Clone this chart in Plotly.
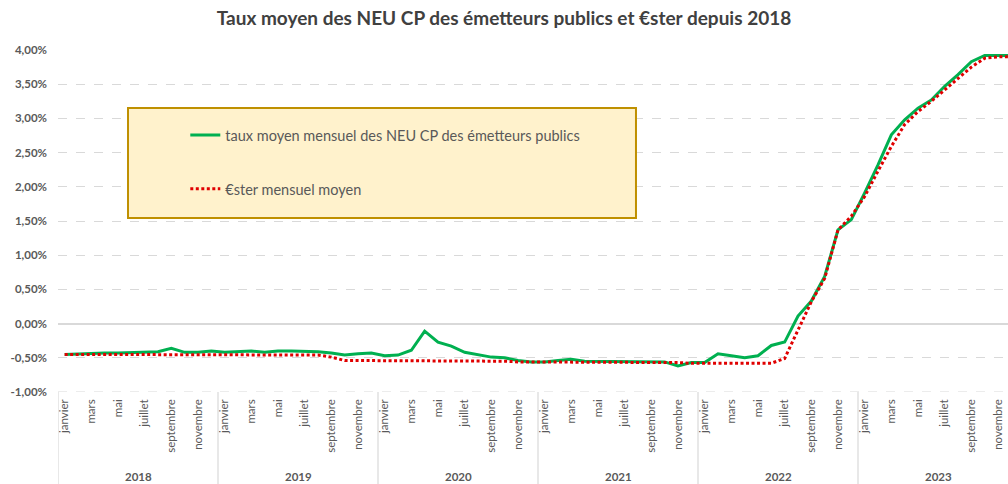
import plotly.graph_objects as go

# Monthly series, January 2018 -> December 2023 (values in %)
years = ["2018", "2019", "2020", "2021", "2022", "2023"]
months = ["janvier", "février", "mars", "avril", "mai", "juin",
          "juillet", "août", "septembre", "octobre", "novembre", "décembre"]

neu_cp = [
    # 2018
    -0.45, -0.44, -0.44, -0.43, -0.43, -0.42, -0.42, -0.41, -0.36, -0.42, -0.42, -0.40,
    # 2019
    -0.42, -0.41, -0.40, -0.42, -0.40, -0.40, -0.40, -0.41, -0.43, -0.46, -0.44, -0.43,
    # 2020
    -0.47, -0.46, -0.39, -0.11, -0.27, -0.33, -0.42, -0.45, -0.49, -0.50, -0.54, -0.56,
    # 2021
    -0.56, -0.54, -0.52, -0.55, -0.55, -0.55, -0.55, -0.55, -0.55, -0.56, -0.62, -0.57,
    # 2022
    -0.57, -0.44, -0.47, -0.50, -0.47, -0.32, -0.27, 0.11, 0.33, 0.69, 1.37, 1.52,
    # 2023
    1.91, 2.32, 2.76, 2.98, 3.15, 3.27, 3.47, 3.64, 3.83, 3.92, 3.92, 3.92,
]

ester = [
    # 2018
    -0.45, -0.45, -0.45, -0.45, -0.45, -0.45, -0.45, -0.45, -0.45, -0.45, -0.45, -0.45,
    # 2019
    -0.45, -0.45, -0.45, -0.45, -0.45, -0.45, -0.45, -0.46, -0.49, -0.54, -0.54, -0.54,
    # 2020
    -0.54, -0.54, -0.54, -0.54, -0.54, -0.55, -0.55, -0.55, -0.55, -0.55, -0.56, -0.56,
    # 2021
    -0.56, -0.56, -0.56, -0.56, -0.56, -0.56, -0.57, -0.57, -0.57, -0.57, -0.57, -0.58,
    # 2022
    -0.58, -0.58, -0.58, -0.58, -0.58, -0.58, -0.51, -0.09, 0.32, 0.66, 1.37, 1.57,
    # 2023
    1.86, 2.23, 2.59, 2.91, 3.10, 3.25, 3.42, 3.59, 3.75, 3.88, 3.90, 3.90,
]

y_ticks = [-1.0, -0.5, 0.0, 0.5, 1.0, 1.5, 2.0, 2.5, 3.0, 3.5, 4.0]

x = list(range(len(years) * len(months)))
month_tickvals = [i for i in x if i % 2 == 0]
month_ticktext = [months[i % 12] for i in month_tickvals]

TXT = "#595959"
GRID = "#D9D9D9"
FONT = "Lato"

fig = go.Figure()
fig.add_trace(go.Scatter(
    x=x, y=neu_cp, mode="lines",
    name="taux moyen mensuel des NEU CP des émetteurs publics",
    line=dict(color="#00B050", width=3),
    legendgroup="a",
))
fig.add_trace(go.Scatter(
    x=x, y=ester, mode="lines",
    name="€ster mensuel moyen",
    line=dict(color="#E00000", width=3, dash="3px,2.5px"),
    legendgroup="b",
))

shapes = []
# Legend panel
shapes.append(dict(type="rect", xref="paper", yref="paper",
                   x0=0.0737, x1=0.6084, y0=0.5088, y1=0.8304,
                   fillcolor="#FFF2CC", line=dict(color="#BF9000", width=2),
                   layer="above"))
# Dashed baseline along the category axis
shapes.append(dict(type="line", xref="paper", yref="y",
                   x0=0, x1=1, y0=-1.0, y1=-1.0,
                   line=dict(color=GRID, width=1, dash="dash")))
# Year separators under the axis
for k in range(len(years) + 1):
    xb = k * 12 - 0.5
    shapes.append(dict(type="line", xref="x", yref="paper",
                       x0=xb, x1=xb, y0=0, y1=-0.27,
                       line=dict(color=GRID, width=1.2)))

annotations = []
for k, yr in enumerate(years):
    annotations.append(dict(x=k * 12 + 5.5, y=-0.248, xref="x", yref="paper",
                            text="<b>" + yr + "</b>", showarrow=False,
                            font=dict(family=FONT, size=11.5, color=TXT),
                            yanchor="middle"))

fig.update_layout(
    width=1008, height=484,
    margin=dict(l=58, r=0, t=50, b=92),
    paper_bgcolor="white", plot_bgcolor="white",
    separators=", ",
    title=dict(text="<b>Taux moyen des NEU CP des émetteurs publics et €ster depuis 2018</b>",
               x=0.5, xanchor="center", y=0.963, yanchor="middle",
               font=dict(family=FONT, size=19, color="#404040")),
    showlegend=True,
    legend=dict(x=0.134, y=0.798, xanchor="left", yanchor="top",
                bgcolor="rgba(0,0,0,0)", borderwidth=0,
                font=dict(family=FONT, size=14.5, color=TXT),
                tracegroupgap=32, itemwidth=30),
    shapes=shapes,
    annotations=annotations,
    xaxis=dict(
        range=[-0.5, 70.75],
        tickmode="array", tickvals=month_tickvals, ticktext=month_ticktext,
        tickangle=-90, tickfont=dict(family=FONT, size=11.5, color=TXT),
        showgrid=False, zeroline=False, showline=False, ticks="",
        ticklabelstandoff=4,
    ),
    yaxis=dict(
        range=[-1.0, 4.0],
        tickmode="array", tickvals=y_ticks,
        ticktext=[("<b>%.2f%%</b>" % v).replace(".", ",") for v in y_ticks],
        tickfont=dict(family=FONT, size=11.5, color=TXT),
        showgrid=True, gridcolor=GRID, griddash="dash", gridwidth=1,
        zeroline=True, zerolinecolor=GRID, zerolinewidth=1.5,
        showline=False, ticks="",
        ticklabelstandoff=10,
    ),
)

fig.write_html("out.html")
